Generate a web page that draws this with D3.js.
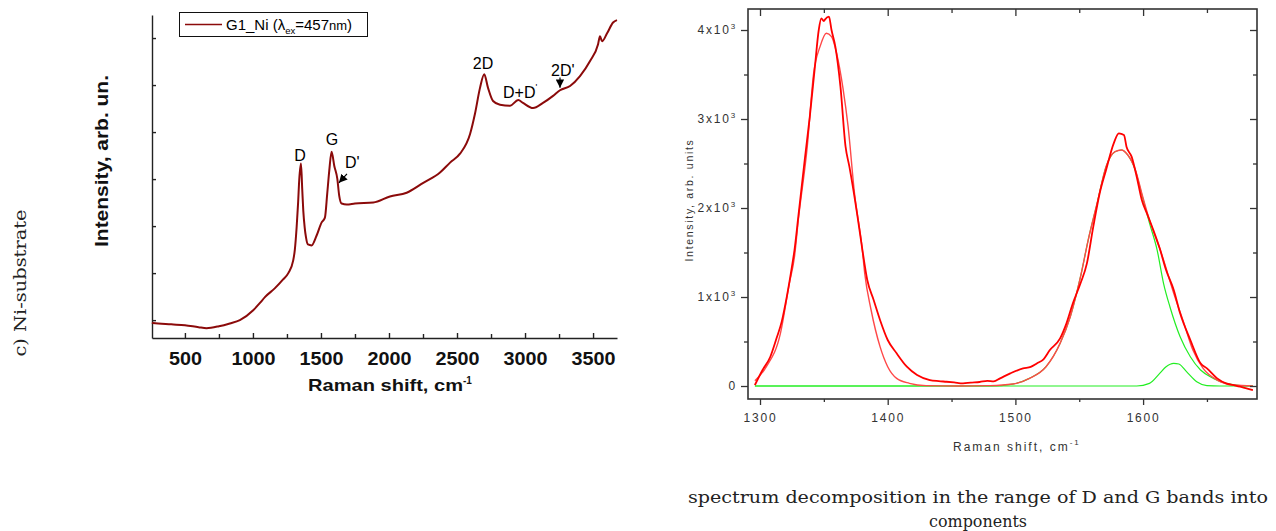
<!DOCTYPE html>
<html>
<head>
<meta charset="utf-8">
<script src="https://cdn.jsdelivr.net/npm/d3@7"></script>
<style>
  body { margin: 0; background: #fff; }
  svg { display: block; }
</style>
</head>
<body>
<div id="chart"></div>
<script>
// LEFT PANEL: full Raman spectrum of G1_Ni, [shift cm-1, intensity arb.]
const spectrumG1Ni = [
  [258, -0.05], [265, -0.06], [400, -0.09], [500, -0.11], [600, -0.15], [659, -0.17], [750, -0.13],
  [830, -0.07], [904, 0.0], [1002, 0.21], [1050, 0.36], [1088, 0.49], [1162, 0.68], [1220, 0.86],
  [1260, 1.0], [1296, 1.27], [1308, 1.5], [1321, 1.97], [1332, 2.5], [1340, 2.97], [1353, 3.33],
  [1362, 2.8], [1370, 2.33], [1380, 1.98], [1390, 1.76], [1404, 1.61], [1431, 1.59], [1468, 1.8],
  [1505, 2.08], [1529, 2.18], [1546, 2.69], [1561, 3.18], [1578, 3.58], [1598, 3.28], [1620, 3.01],
  [1634, 2.65], [1652, 2.48], [1689, 2.46], [1750, 2.48], [1885, 2.5], [2007, 2.63], [2130, 2.71],
  [2252, 2.92], [2375, 3.14], [2449, 3.35], [2522, 3.54], [2596, 3.96], [2632, 4.39], [2669, 4.94],
  [2700, 5.23], [2728, 4.94], [2765, 4.66], [2816, 4.58], [2890, 4.56], [2950, 4.68], [2985, 4.62],
  [3059, 4.51], [3132, 4.62], [3206, 4.77], [3257, 4.89], [3331, 4.98], [3404, 5.19], [3478, 5.51],
  [3537, 5.87], [3551, 6.04], [3566, 5.93], [3603, 6.1], [3647, 6.33], [3676, 6.38]
];
const leftMajorTicks = [500, 1000, 1500, 2000, 2500, 3000, 3500];
const leftMinorTicks = [750, 1250, 1750, 2250, 2750, 3250];
const leftYTicks = [0, 1, 2, 3, 4, 5, 6];

// peak labels, placed in data units
const peakLabels = [
  { text: "D", x: 1346, y: 3.39, anchor: "middle" },
  { text: "G", x: 1581, y: 3.73, anchor: "middle" },
  { text: "D'", x: 1676, y: 3.24, anchor: "start" },
  { text: "2D", x: 2691, y: 5.34, anchor: "middle" },
  { text: "D+D", x: 2838, y: 4.72, anchor: "start", prime: true },
  { text: "2D'", x: 3191, y: 5.19, anchor: "start" }
];
const peakArrows = [
  { from: [1691, 3.11], to: [1632, 2.92] },
  { from: [3257, 5.16], to: [3257, 4.94] }
];

// RIGHT PANEL: D and G band decomposition, [shift cm-1, intensity]
const measured = [
  [1296, 11], [1302, 180], [1308, 326], [1313, 539], [1317, 723], [1321, 1004], [1325, 1341],
  [1327, 1528], [1330, 1902], [1335, 2539], [1339, 3026], [1343, 3588], [1346, 4000], [1348, 4131],
  [1350, 4100], [1351, 4120], [1354, 4150], [1356, 4000], [1359, 3813], [1363, 3363], [1367, 2689],
  [1370, 2464], [1376, 1940], [1380, 1547], [1384, 1191], [1389, 966], [1394, 742], [1400, 517],
  [1407, 367], [1415, 217], [1423, 124], [1433, 67], [1440, 55], [1446, 48], [1452, 40], [1459, 30],
  [1465, 38], [1472, 45], [1478, 58], [1483, 52], [1488, 86], [1496, 142], [1506, 198], [1512, 215],
  [1517, 255], [1522, 300], [1527, 404], [1535, 535], [1540, 704], [1545, 929], [1551, 1154],
  [1556, 1378], [1561, 1790], [1566, 2165], [1571, 2427], [1577, 2727], [1581, 2839], [1585, 2820],
  [1587, 2689], [1591, 2577], [1595, 2352], [1599, 2090], [1603, 1940], [1608, 1753], [1613, 1547],
  [1618, 1303], [1624, 1079], [1629, 817], [1637, 517], [1645, 255], [1650, 198], [1658, 86],
  [1665, 30], [1671, 10], [1676, -7], [1681, -26], [1686, -45]
];
const fitSum = [
  [1296, 60], [1305, 217], [1316, 592], [1323, 1154], [1327, 1453], [1330, 1865], [1337, 2689],
  [1342, 3513], [1347, 3813], [1352, 3963], [1356, 3925], [1360, 3738], [1365, 3345], [1369, 2914],
  [1374, 2165], [1380, 1547], [1382, 1266], [1387, 854], [1394, 442], [1400, 217], [1407, 86],
  [1417, 30], [1430, 4], [1455, 0], [1480, 4], [1498, 22], [1511, 86], [1524, 217], [1535, 479],
  [1543, 779], [1551, 1228], [1557, 1640], [1564, 2053], [1571, 2464], [1578, 2633], [1583, 2652],
  [1588, 2596], [1594, 2427], [1599, 2165], [1605, 1865], [1613, 1547], [1616, 1416], [1624, 1041],
  [1632, 704], [1639, 404], [1647, 198], [1658, 67], [1671, 11], [1686, 0]
];
const gComponent = [
  [1296, 0], [1480, 0], [1498, 22], [1511, 86], [1524, 217], [1535, 479], [1543, 779], [1551, 1228],
  [1557, 1640], [1564, 2053], [1571, 2464], [1578, 2633], [1583, 2652], [1588, 2596], [1594, 2420],
  [1599, 2150], [1605, 1830], [1611, 1528], [1616, 1154], [1621, 891], [1629, 554], [1637, 329],
  [1645, 180], [1655, 86], [1665, 30], [1676, 5], [1686, 0]
];
const dPrimeComponent = [
  [1296, 0], [1595, 0], [1605, 30], [1613, 142], [1618, 217], [1624, 255], [1628, 247], [1634, 161],
  [1642, 48], [1650, 4], [1660, 0], [1686, 0]
];
const rightXMajor = [1300, 1400, 1500, 1600];
const rightXMinor = [1350, 1450, 1550, 1650];
const rightYMajor = [0, 1000, 2000, 3000, 4000];
const rightYMinor = [500, 1500, 2500, 3500];

const svg = d3.select('#chart').append('svg')
  .attr('width', 1276)
  .attr('height', 531);

drawLeft();
drawRight();
drawCaptions();

function drawLeft() {
  const xL = d3.scaleLinear().domain([258, 3676]).range([152, 617]);
  const yL = d3.scaleLinear().domain([-0.38, 6.49]).range([338, 15]);
  const g = svg.append('g').attr('font-family', 'Liberation Sans, Arial, sans-serif');

  const xAxis = g.append('g')
    .attr('transform', 'translate(0,338)')
    .call(d3.axisBottom(xL).tickValues(leftMajorTicks).tickSize(-5).tickSizeOuter(0).tickPadding(0)
      .tickFormat(d => String(d)));
  g.append('g')
    .attr('transform', 'translate(0,338)')
    .call(d3.axisBottom(xL).tickValues(leftMinorTicks).tickSize(-4).tickSizeOuter(0).tickFormat(''))
    .select('.domain').remove();
  xAxis.selectAll('text')
    .attr('y', 27).attr('dy', null)
    .attr('font-size', 17.5).attr('font-weight', 'bold').attr('fill', '#111')
    .attr('textLength', d => String(d).length * 11)
    .attr('lengthAdjust', 'spacingAndGlyphs');

  g.append('g')
    .attr('transform', 'translate(152,0)')
    .call(d3.axisLeft(yL).tickValues(leftYTicks).tickSize(-4).tickSizeOuter(0).tickFormat(''));

  g.selectAll('.domain, .tick line').attr('stroke', '#222').attr('stroke-width', 1.4);

  // axis titles
  const xt = g.append('text')
    .attr('x', 308).attr('y', 391)
    .attr('font-size', 16.5).attr('font-weight', 'bold').attr('fill', '#111');
  xt.append('tspan').text('Raman shift, cm').attr('textLength', 155).attr('lengthAdjust', 'spacingAndGlyphs');
  xt.append('tspan').text('-1').attr('font-size', 10).attr('dy', -7);

  g.append('text')
    .attr('transform', 'translate(108,161) rotate(-90)')
    .attr('text-anchor', 'middle')
    .attr('font-size', 18).attr('font-weight', 'bold').attr('fill', '#111')
    .attr('textLength', 172).attr('lengthAdjust', 'spacingAndGlyphs')
    .text('Intensity, arb. un.');

  const line = d3.line()
    .x(d => xL(d[0]))
    .y(d => yL(d[1]))
    .curve(d3.curveMonotoneX);

  g.append('path')
    .datum(spectrumG1Ni)
    .attr('d', line)
    .attr('fill', 'none')
    .attr('stroke', '#8b0a0a')
    .attr('stroke-width', 2);

  // peak labels
  peakLabels.forEach(p => {
    const t = g.append('text')
      .attr('x', xL(p.x)).attr('y', yL(p.y))
      .attr('text-anchor', p.anchor)
      .attr('font-size', 16).attr('fill', '#000')
      .text(p.text);
    if (p.prime) t.append('tspan').text("'").attr('font-size', 9).attr('dy', -8);
  });

  svg.append('defs').append('marker')
    .attr('id', 'tri')
    .attr('viewBox', '0 0 10 10')
    .attr('refX', 10).attr('refY', 5)
    .attr('markerWidth', 7).attr('markerHeight', 7)
    .attr('orient', 'auto')
    .append('path').attr('d', 'M0,0L10,5L0,10z').attr('fill', '#000');

  peakArrows.forEach(a => {
    g.append('line')
      .attr('x1', xL(a.from[0])).attr('y1', yL(a.from[1]))
      .attr('x2', xL(a.to[0])).attr('y2', yL(a.to[1]))
      .attr('stroke', '#000').attr('stroke-width', 1.2)
      .attr('marker-end', 'url(#tri)');
  });

  // legend
  g.append('rect')
    .attr('x', 179.5).attr('y', 12.5).attr('width', 188).attr('height', 24)
    .attr('fill', '#fff').attr('stroke', '#111').attr('stroke-width', 1);
  g.append('line')
    .attr('x1', 185).attr('x2', 222).attr('y1', 24.5).attr('y2', 24.5)
    .attr('stroke', '#8b0a0a').attr('stroke-width', 1.5);
  const lt = g.append('text')
    .attr('x', 226).attr('y', 30)
    .attr('font-size', 15).attr('fill', '#000');
  lt.append('tspan').text('G1_Ni (\u03bb');
  lt.append('tspan').text('ex').attr('font-size', 9.5).attr('dy', 4);
  lt.append('tspan').text('=457').attr('dy', -4);
  lt.append('tspan').text('nm').attr('font-size', 13);
  lt.append('tspan').text(')');
}

function drawRight() {
  const xR = d3.scaleLinear().domain([1290.6, 1689.2]).range([748, 1257]);
  const yR = d3.scaleLinear().domain([-146, 4236]).range([399, 9]);
  const font = 'Liberation Sans Narrow, Liberation Sans, Arial, sans-serif';
  const g = svg.append('g').attr('font-family', font);

  const line = d3.line()
    .x(d => xR(d[0]))
    .y(d => yR(d[1]))
    .curve(d3.curveMonotoneX);

  // components first, then fitted sum, then measured data on top
  [gComponent, dPrimeComponent].forEach(c => {
    g.append('path').datum(c).attr('d', line)
      .attr('fill', 'none').attr('stroke', '#22ee22').attr('stroke-width', 1.2);
  });
  g.append('path').datum(fitSum).attr('d', line)
    .attr('fill', 'none').attr('stroke', '#ff4848').attr('stroke-width', 1.4);
  g.append('path').datum(measured).attr('d', line)
    .attr('fill', 'none').attr('stroke', '#ff0000').attr('stroke-width', 1.8);

  // axes (all ticks point left / down, like the original plot)
  const bottom = g.append('g').attr('transform', 'translate(0,399)')
    .call(d3.axisBottom(xR).tickValues(rightXMajor).tickSize(6).tickSizeOuter(0).tickFormat(d => String(d)));
  g.append('g').attr('transform', 'translate(0,399)')
    .call(d3.axisBottom(xR).tickValues(rightXMinor).tickSize(3).tickSizeOuter(0).tickFormat(''));
  g.append('g').attr('transform', 'translate(0,9)')
    .call(d3.axisBottom(xR).tickValues(rightXMajor).tickSize(7).tickSizeOuter(0).tickFormat(''));
  g.append('g').attr('transform', 'translate(0,9)')
    .call(d3.axisBottom(xR).tickValues(rightXMinor).tickSize(4).tickSizeOuter(0).tickFormat(''));

  const left = g.append('g').attr('transform', 'translate(748,0)')
    .call(d3.axisLeft(yR).tickValues(rightYMajor).tickSize(7).tickSizeOuter(0).tickFormat(''));
  g.append('g').attr('transform', 'translate(748,0)')
    .call(d3.axisLeft(yR).tickValues(rightYMinor).tickSize(4).tickSizeOuter(0).tickFormat(''));
  g.append('g').attr('transform', 'translate(1257,0)')
    .call(d3.axisLeft(yR).tickValues(rightYMajor).tickSize(7).tickSizeOuter(0).tickFormat(''));
  g.append('g').attr('transform', 'translate(1257,0)')
    .call(d3.axisLeft(yR).tickValues(rightYMinor).tickSize(4).tickSizeOuter(0).tickFormat(''));

  g.selectAll('.domain').remove();
  g.selectAll('.tick line').attr('stroke', '#333').attr('stroke-width', 1.3);

  bottom.selectAll('text')
    .attr('y', 14).attr('dy', '0.71em')
    .attr('font-size', 12).attr('fill', '#333').attr('letter-spacing', 1.8)
    .attr('font-family', font);

  // y tick labels: 0, 1x10^3 ...
  left.selectAll('.tick').append('text')
    .attr('x', -11).attr('dy', '0.32em')
    .attr('text-anchor', 'end')
    .attr('font-size', 12).attr('fill', '#333').attr('letter-spacing', 1.8)
    .each(function (d) {
      const t = d3.select(this);
      if (d === 0) { t.text('0'); return; }
      t.append('tspan').text((d / 1000) + 'x10');
      t.append('tspan').text('3').attr('font-size', 8).attr('dy', -5);
    });

  g.append('rect')
    .attr('x', 748).attr('y', 9).attr('width', 509).attr('height', 390)
    .attr('fill', 'none').attr('stroke', '#333').attr('stroke-width', 1.6);

  const xt = g.append('text')
    .attr('x', 953).attr('y', 451)
    .attr('font-size', 12).attr('fill', '#333').attr('letter-spacing', 2);
  xt.append('tspan').text('Raman shift, cm');
  xt.append('tspan').text('-1').attr('font-size', 8).attr('dy', -6);

  g.append('text')
    .attr('transform', 'translate(693,200) rotate(-90)')
    .attr('text-anchor', 'middle')
    .attr('font-size', 10.5).attr('fill', '#333').attr('letter-spacing', 1.7)
    .text('Intensity, arb. units');
}

function drawCaptions() {
  const serif = 'DejaVu Serif, Liberation Serif, serif';
  svg.append('text')
    .attr('transform', 'translate(26,283) rotate(-90)')
    .attr('text-anchor', 'middle')
    .attr('font-family', serif).attr('font-size', 17).attr('fill', '#222')
    .attr('textLength', 147).attr('lengthAdjust', 'spacingAndGlyphs')
    .text('c) Ni-substrate');

  const lines = ['spectrum decomposition in the range of D and G bands into', 'components'];
  const widths = [580, 98];
  svg.selectAll('.caption')
    .data(lines)
    .enter()
    .append('text')
    .attr('class', 'caption')
    .attr('x', 978)
    .attr('y', (d, i) => 503 + i * 24)
    .attr('text-anchor', 'middle')
    .attr('font-family', serif).attr('font-size', 17).attr('fill', '#222')
    .attr('textLength', (d, i) => widths[i]).attr('lengthAdjust', 'spacingAndGlyphs')
    .text(d => d);
}
</script>
</body>
</html>
